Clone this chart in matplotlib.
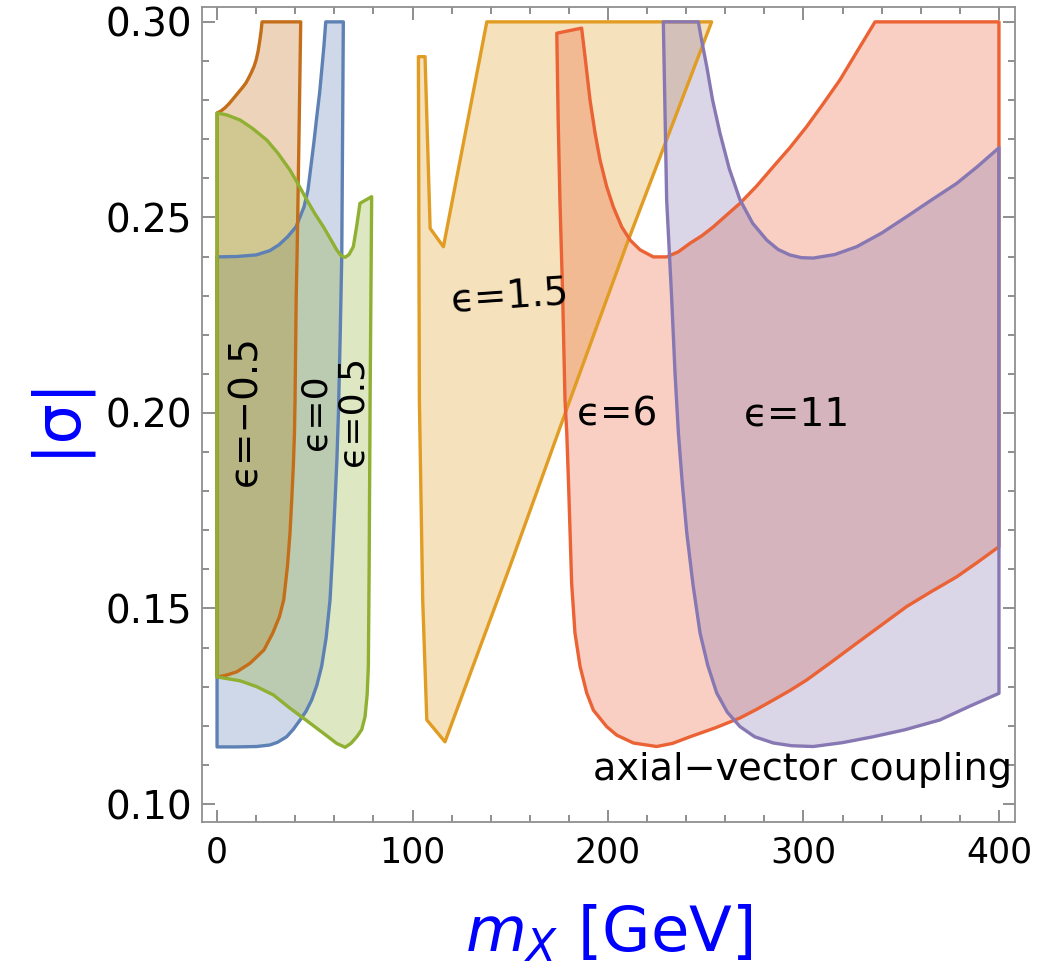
import matplotlib
matplotlib.use("Agg")
import matplotlib.pyplot as plt
from matplotlib.ticker import MultipleLocator, FormatStrFormatter

plt.rcParams['font.family'] = ['DejaVu Sans']
plt.rcParams['mathtext.fontset'] = 'dejavusans'

# allowed regions in the (m_X [GeV], |sigma|) plane, boundary

# eps = -0.5
em05_x = [0, 0, 2, 4, 6, 7.7, 11, 13, 14.8, 16.3, 17.5, 19, 20, 21, 21.8, 22.5, 23,
          42.8, 42.5, 42.2, 41.8, 41.4, 41.0, 40.5, 39.9, 39.6, 39.0, 38.2, 37.3, 36.0,
          34.1, 31.9, 28.5, 24.0, 16.9, 10.1, 4.5]
em05_y = [0.1325, 0.2767, 0.2772, 0.2780, 0.2790, 0.280, 0.282, 0.2832, 0.2844, 0.2858,
          0.287, 0.2887, 0.2903, 0.2925, 0.295, 0.2975, 0.30,
          0.30, 0.29, 0.28, 0.267, 0.2545, 0.242, 0.23, 0.2033, 0.1948, 0.1863, 0.1777,
          0.1692, 0.1607, 0.1522, 0.1479, 0.1437, 0.1394, 0.1360, 0.1338, 0.1329]

# eps = 0
e0_x = [0, 0, 10, 20, 27, 31.7, 36, 40.4, 44.5, 46.5, 48, 49.5, 51, 52.5, 53.7, 54.7,
        55.6, 64.6, 64.2, 63.8, 63.0, 62.1, 61.3, 60.4, 59.2, 57.8, 55.8, 53.5, 51,
        48.4, 45.5, 42.5, 39, 35.6, 31, 27.1, 20.3, 10]
e0_y = [0.1146, 0.2399, 0.2400, 0.2404, 0.2415, 0.243, 0.2450, 0.2476, 0.2527, 0.257,
        0.263, 0.269, 0.2757, 0.282, 0.2885, 0.294, 0.30, 0.30, 0.27, 0.2400, 0.22,
        0.1999, 0.188, 0.1778, 0.165, 0.1522, 0.1425, 0.1352, 0.1303, 0.1266, 0.1237,
        0.1215, 0.1191, 0.1172, 0.1158, 0.1151, 0.1147, 0.1146]

# eps = 0.5
e05_x = [0, 0, 5, 11.8, 18, 25.4, 31, 37.3, 41.5, 45.9, 50, 54.4, 58, 61.2, 63.5, 65.5,
         67.5, 69.7, 71.5, 73.1, 79.1, 78.3, 77.8, 77.4, 76.8, 75.7, 74, 71.5, 68.5,
         65.5, 61.2, 54.4, 45.9, 37.3, 28.8, 20.3, 11.8]
e05_y = [0.1325, 0.2767, 0.2762, 0.2749, 0.2728, 0.2698, 0.2665, 0.2621, 0.2585, 0.2545,
         0.2510, 0.2476, 0.2445, 0.2417, 0.2402, 0.2398, 0.2405, 0.2425, 0.2480, 0.2536,
         0.2553, 0.2033, 0.16, 0.1352, 0.128, 0.1223, 0.1190, 0.1172, 0.1155, 0.1145,
         0.1155, 0.1181, 0.1213, 0.1245, 0.1279, 0.1300, 0.1315]

# eps = 1.5
e15_x = [103, 106.4, 109, 115.8, 138, 253, 210, 178.5, 150, 116.6, 107.3, 105.2, 103.5]
e15_y = [0.2911, 0.2911, 0.2472, 0.2425, 0.30, 0.30, 0.2437, 0.2005, 0.161, 0.1159,
         0.1215, 0.1522, 0.2033]

# eps = 6
e6_x = [173.8, 186.5, 188.5, 190.8, 193.4, 195.9, 199.3, 202.7, 207, 211.3, 216.4,
        223.2, 230, 236, 242, 248, 253.9, 260, 267.5, 276, 284.6, 293, 301.6, 310,
        318.7, 327.5, 336.6, 400, 400, 389, 378.4, 365, 352.8, 340, 327.2, 314, 301.6,
        293, 284.6, 276, 267.5, 255, 242, 233, 224.9, 213, 204.5, 199.3, 192.5, 189.1,
        185.7, 183.1, 181.4, 180.6, 179.8, 178.9, 178, 176.8, 175.4, 174.5]
e6_y = [0.2971, 0.2984, 0.290, 0.280, 0.2715, 0.2647, 0.2579, 0.2527, 0.2476, 0.2442,
        0.2417, 0.2399, 0.2399, 0.2412, 0.2434, 0.2453, 0.2476, 0.2503, 0.2536, 0.2580,
        0.263, 0.2678, 0.2732, 0.2790, 0.2852, 0.2925, 0.30, 0.30, 0.1658, 0.1618,
        0.1581, 0.1542, 0.1505, 0.1458, 0.1411, 0.1362, 0.1317, 0.1290, 0.1266, 0.1242,
        0.1220, 0.1195, 0.1172, 0.1155, 0.1147, 0.1156, 0.1176, 0.1198, 0.1240, 0.1284,
        0.1352, 0.1437, 0.1564, 0.1693, 0.182, 0.1949, 0.2033, 0.230, 0.2545, 0.275]

# eps = 11
e11_x = [228.3, 246.2, 248, 250.5, 253.5, 257.3, 262, 267.5, 274, 281.2, 287, 293, 299,
         305, 316, 327.2, 340, 352.8, 365, 378.4, 389, 400, 400, 385, 369.8, 352,
         335.7, 320, 305, 294, 284.6, 275, 267.5, 261, 255.6, 251, 247.1, 243.5, 240.3,
         238, 236, 234.3, 232.5, 230]
e11_y = [0.30, 0.30, 0.295, 0.2886, 0.280, 0.2715, 0.2625, 0.2545, 0.2485, 0.2442,
         0.2418, 0.2404, 0.2397, 0.2396, 0.2405, 0.2425, 0.246, 0.2502, 0.2543, 0.2587,
         0.263, 0.2678, 0.1283, 0.1250, 0.1215, 0.1190, 0.1172, 0.1157, 0.1147, 0.1149,
         0.1156, 0.1172, 0.1198, 0.1235, 0.1284, 0.1355, 0.1437, 0.1560, 0.1693, 0.1820,
         0.1949, 0.2100, 0.230, 0.2545]

regions = [
    (e0_x, e0_y, '#5E81B5'),
    (em05_x, em05_y, '#C56E1A'),
    (e05_x, e05_y, '#8FB032'),
    (e15_x, e15_y, '#E19C24'),
    (e6_x, e6_y, '#EB6235'),
    (e11_x, e11_y, '#8778B3'),
]

# curve labels: text, x, y, rotation, size
labels = [
    ('\u03f5=\u22120.5', 14.3, 0.2005, 90, 28),
    ('\u03f5=0', 50.6, 0.2003, 90, 26),
    ('\u03f5=0.5', 69.4, 0.2005, 90, 26),
    ('\u03f5=1.5', 149.9, 0.2297, 4, 28),
    ('\u03f5=6', 205.0, 0.1995, 0, 28),
    ('\u03f5=11', 296.7, 0.1995, 0, 28),
]

fig = plt.figure(figsize=(10.48, 9.74), dpi=100)
ax = fig.add_axes([0.19275, 0.15606, 0.77576, 0.83675])

for x, y, c in regions:
    ax.fill(x, y, color=c, alpha=0.3, lw=0)
for x, y, c in regions:
    ax.fill(x, y, facecolor='none', edgecolor=c, lw=2.4, joinstyle='round')

for txt, x, y, rot, fs in labels:
    ax.text(x, y, txt, fontsize=fs, rotation=rot, ha='center', va='center')
ax.text(406.5, 0.1087, 'axial\u2212vector coupling', fontsize=27.5, ha='right', va='center')

ax.set_xlim(-7.7, 408.2)
ax.set_ylim(0.0954, 0.3038)
ax.xaxis.set_major_locator(MultipleLocator(100))
ax.xaxis.set_minor_locator(MultipleLocator(20))
ax.yaxis.set_major_locator(MultipleLocator(0.05))
ax.yaxis.set_minor_locator(MultipleLocator(0.01))
ax.yaxis.set_major_formatter(FormatStrFormatter('%.2f'))

for s in ax.spines.values():
    s.set_color('#909090')
    s.set_linewidth(1.3)
ax.tick_params(which='both', direction='in', top=True, right=True, color='#707070', width=1.1)
ax.tick_params(which='major', length=9)
ax.tick_params(which='minor', length=5)
ax.tick_params(axis='y', labelsize=28, pad=7)
ax.tick_params(axis='x', labelsize=25, pad=10)

ax.set_xlabel('$m_X$ [GeV]', fontsize=45, color='blue')
ax.xaxis.set_label_coords(0.5, -0.1)
ax.set_ylabel('|\u03c3|', fontsize=46, color='blue')
ax.yaxis.set_label_coords(-0.14, 0.5)

fig.savefig('out.png', dpi=100)
